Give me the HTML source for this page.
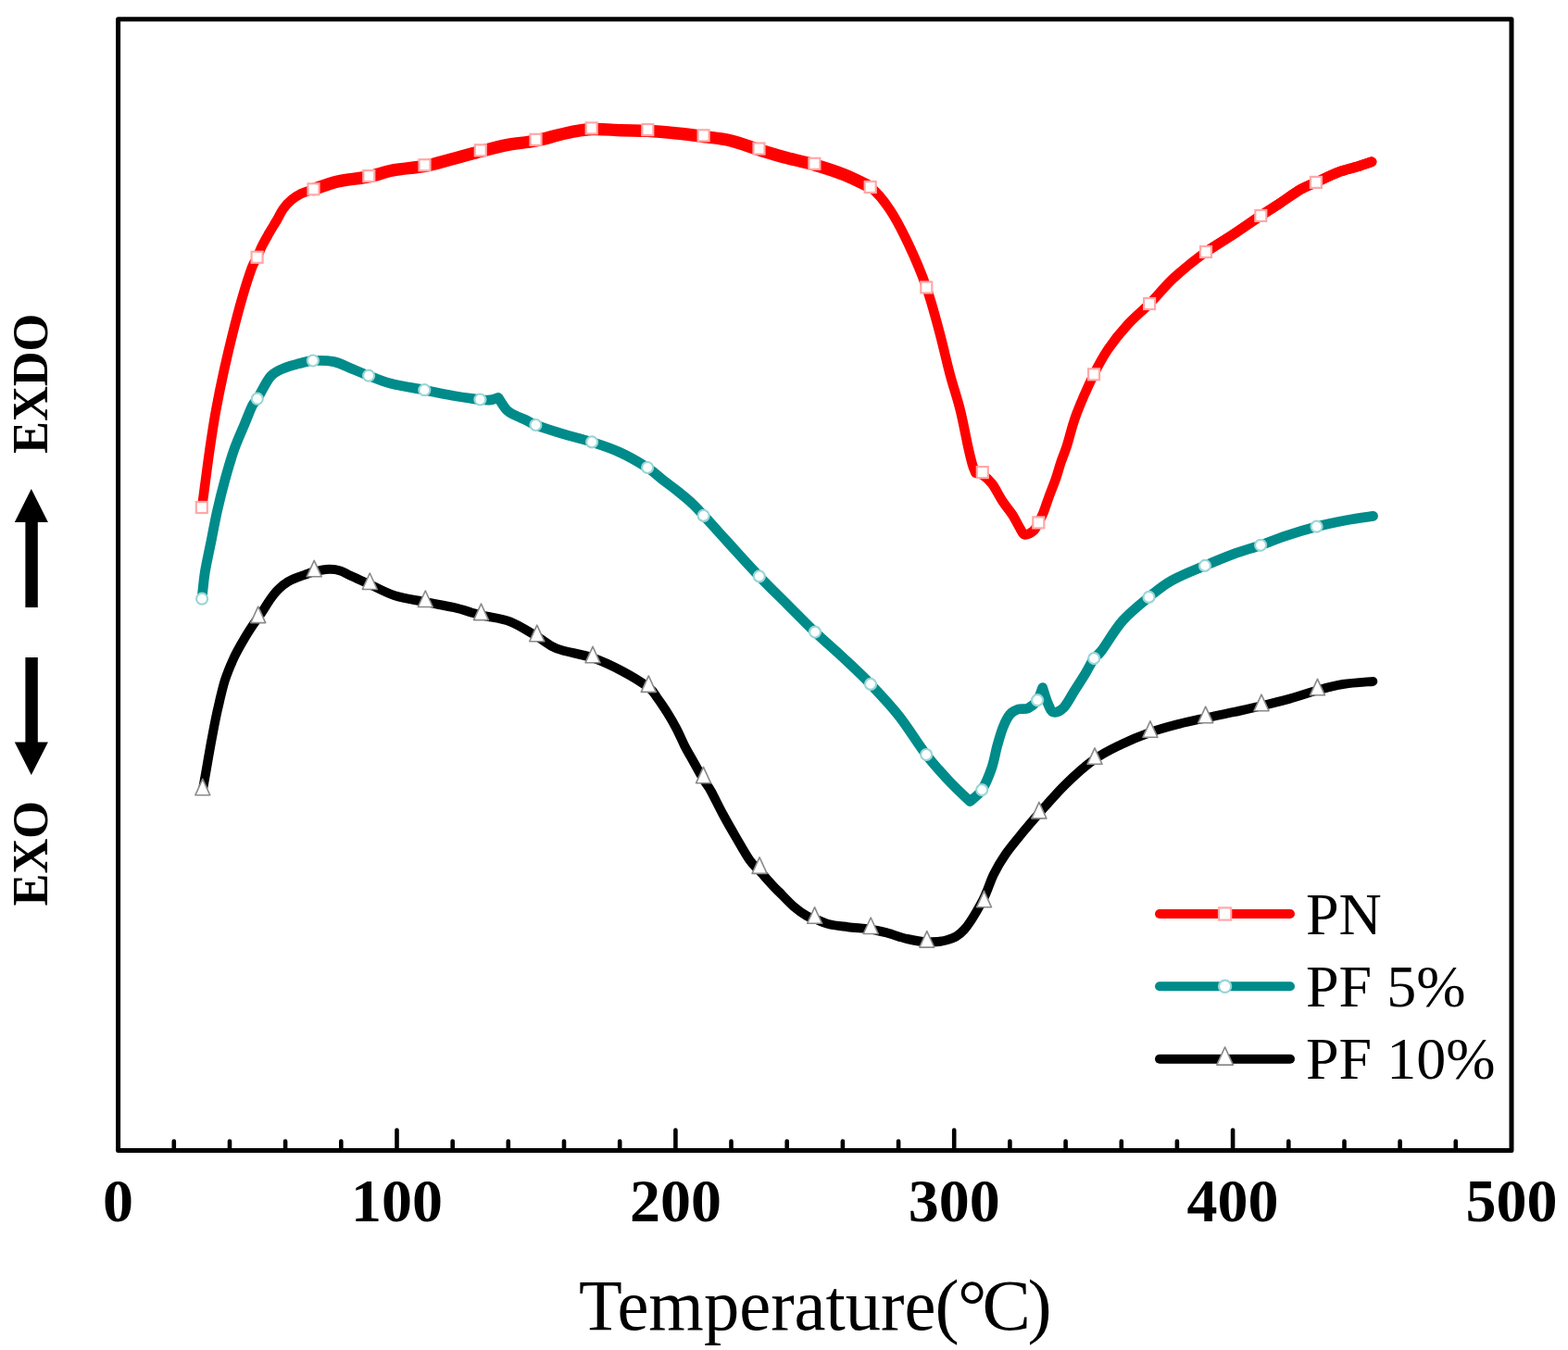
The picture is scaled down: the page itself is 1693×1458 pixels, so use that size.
<!DOCTYPE html>
<html><head><meta charset="utf-8"><title>DSC curves</title>
<style>
html,body{margin:0;padding:0;background:#fff;}
body{width:1693px;height:1458px;overflow:hidden;}
svg{display:block;}
.tk{font-family:"Liberation Serif","Times New Roman",serif;font-weight:bold;}
.rg{font-family:"Liberation Serif","Times New Roman","Noto Serif CJK SC",serif;}
</style></head><body>
<svg width="1693" height="1458" viewBox="0 0 1693 1458">
<rect x="0" y="0" width="1693" height="1458" fill="#fff"/>
<path d="M187.8,1242.6V1232.6M248,1242.6V1232.6M308.1,1242.6V1232.6M368.3,1242.6V1232.6M428.5,1242.6V1220.6M488.7,1242.6V1232.6M548.8,1242.6V1232.6M609,1242.6V1232.6M669.2,1242.6V1232.6M729.4,1242.6V1220.6M789.5,1242.6V1232.6M849.7,1242.6V1232.6M909.9,1242.6V1232.6M970.1,1242.6V1232.6M1030.2,1242.6V1220.6M1090.4,1242.6V1232.6M1150.6,1242.6V1232.6M1210.8,1242.6V1232.6M1270.9,1242.6V1232.6M1331.1,1242.6V1220.6M1391.3,1242.6V1232.6M1451.5,1242.6V1232.6M1511.6,1242.6V1232.6M1571.8,1242.6V1232.6" stroke="#000" stroke-width="4.6" fill="none" stroke-linecap="round"/>
<rect x="127.6" y="20.8" width="1504.4" height="1221.8" fill="none" stroke="#000" stroke-width="5" stroke-linejoin="round"/>
<text class="tk" x="127.6" y="1318.5" font-size="66" text-anchor="middle">0</text>
<text class="tk" x="428.5" y="1318.5" font-size="66" text-anchor="middle">100</text>
<text class="tk" x="729.4" y="1318.5" font-size="66" text-anchor="middle">200</text>
<text class="tk" x="1030.2" y="1318.5" font-size="66" text-anchor="middle">300</text>
<text class="tk" x="1331.1" y="1318.5" font-size="66" text-anchor="middle">400</text>
<text class="tk" x="1632" y="1318.5" font-size="66" text-anchor="middle">500</text>
<path d="M218,548C218.3,545.9 218.4,545.5 219.8,535.1C221.2,524.7 224.2,501 226.4,485.8C228.6,470.6 230.4,458.4 233,444C235.6,429.6 238.9,413.5 242,399.5C245.1,385.5 248,373.2 251.3,360C254.6,346.8 258.5,331.9 262,320C265.5,308.1 269.5,295.7 272.1,288.7C274.7,281.7 275.8,281.9 277.6,278C279.4,274.1 280.8,269.9 283,265.5C285.2,261.1 288,256.3 290.6,251.7C293.2,247.1 296.3,242.3 298.8,238C301.3,233.7 303.1,229.3 305.7,225.7C308.3,222 311.4,218.8 314.6,216.1C317.8,213.3 320.9,211.1 324.9,209.2C328.9,207.3 331.9,206.7 338.5,204.5C345.1,202.3 354.7,198.3 364.6,196C374.5,193.7 388.1,192.8 398,190.8C407.9,188.8 414.2,185.8 424.3,183.9C434.4,182 448.2,181.3 458.5,179.4C468.8,177.5 476.2,175 486.3,172.3C496.4,169.7 508.4,166.2 518.8,163.5C529.1,160.8 538.4,158.3 548.4,156.4C558.4,154.5 568.2,154.1 578.5,152C588.8,149.9 600.4,146.1 610.4,144C620.4,141.9 628.7,140.2 638.7,139.6C648.7,139 660.5,140.4 670.6,140.7C680.7,141 689.2,140.8 699.3,141.3C709.3,141.9 720.8,143 730.9,144C741,145 749.9,146.2 759.6,147.5C769.4,148.8 779.4,149.6 789.4,152C799.4,154.4 809.5,158.6 819.5,161.7C829.5,164.8 839.6,167.9 849.6,170.6C859.6,173.3 869.1,175 879.4,178C889.7,181 901.5,184.8 911.6,188.8C921.7,192.8 931.5,195.7 939.7,202C947.9,208.3 954.1,216.4 960.9,226.6C967.7,236.8 974,249.1 980.6,263.1C987.2,277.1 994.7,294.4 1000.3,310.4C1005.9,326.3 1010.2,343.2 1014.4,358.8C1018.6,374.4 1021.8,389.7 1025.6,403.8C1029.3,417.9 1033.6,429.7 1036.9,443.2C1040.2,456.7 1043.5,474.9 1045.7,484.7C1047.9,494.5 1048.7,497.6 1050,502C1051.3,506.4 1052.9,509.5 1053.5,511C1054.8,511.3 1058,511.1 1061,513C1064,514.9 1067.6,517.8 1071.2,522.5C1074.8,527.2 1078.9,535.9 1082.5,541.4C1086.1,546.9 1089.8,550.7 1092.9,555.6C1096.1,560.5 1099.2,567.1 1101.4,570.7C1103.6,574.3 1103.8,576.9 1106.2,577.4C1108.6,577.9 1113.1,575.7 1115.6,573.6C1118.1,571.5 1119.5,567.9 1121.3,564.6C1123.1,561.3 1124.6,558.4 1126.5,553.7C1128.4,549.1 1130.3,542.7 1132.5,536.7C1134.7,530.7 1137.5,524.1 1139.7,517.8C1141.9,511.5 1143.6,504.9 1145.6,498.9C1147.6,492.9 1149,490.5 1151.8,481.9C1154.6,473.3 1157.4,460.1 1162.3,447.2C1167.2,434.3 1175.4,416 1181.1,404.3C1186.8,392.6 1190.6,385.8 1196.6,376.9C1202.6,368 1209.7,359.2 1217.1,351.1C1224.5,343 1232.5,336.7 1241.1,328C1249.7,319.3 1258.4,308.3 1268.6,299C1278.8,289.7 1291.6,279.6 1302,272C1312.4,264.4 1321.1,260 1331,253.5C1340.9,247 1352.6,238.7 1361.3,232.9C1370,227.1 1375.9,223.5 1383,218.8C1390.1,214.1 1397.8,208.2 1404.1,204.6C1410.4,200.9 1414.1,200 1420.9,196.9C1427.7,193.8 1437.5,188.8 1445,186C1452.5,183.2 1460.1,181.7 1466.1,179.8C1472.1,177.9 1478.5,175.6 1481,174.8" stroke="#ff0000" stroke-width="10.5" fill="none" stroke-linecap="round" stroke-linejoin="round"/>
<path d="M338.5,204.5C342.9,203.1 354.7,198.3 364.6,196C374.5,193.7 388.1,192.8 398,190.8C407.9,188.8 414.2,185.8 424.3,183.9C434.4,182 448.2,181.3 458.5,179.4C468.8,177.5 476.2,175 486.3,172.3C496.4,169.7 508.4,166.2 518.8,163.5C529.1,160.8 538.4,158.3 548.4,156.4C558.4,154.5 568.2,154.1 578.5,152C588.8,149.9 600.4,146.1 610.4,144C620.4,141.9 628.7,140.2 638.7,139.6C648.7,139 660.5,140.4 670.6,140.7C680.7,141 689.2,140.8 699.3,141.3C709.3,141.9 720.8,143 730.9,144C741,145 749.9,146.2 759.6,147.5C769.4,148.8 779.4,149.6 789.4,152C799.4,154.4 809.5,158.6 819.5,161.7C829.5,164.8 839.6,167.9 849.6,170.6C859.6,173.3 869.1,175 879.4,178C889.7,181 901.5,184.8 911.6,188.8C921.7,192.8 935,199.8 939.7,202" stroke="#ff0000" stroke-width="13.5" fill="none" stroke-linecap="round" stroke-linejoin="round"/>
<path d="M1302,272C1306.8,268.9 1321.1,260 1331,253.5C1340.9,247 1352.6,238.7 1361.3,232.9C1370,227.1 1375.9,223.5 1383,218.8C1390.1,214.1 1397.8,208.2 1404.1,204.6C1410.4,200.9 1414.1,200 1420.9,196.9C1427.7,193.8 1437.5,188.8 1445,186C1452.5,183.2 1460.1,181.7 1466.1,179.8C1472.1,177.9 1478.5,175.6 1481,174.8" stroke="#ff0000" stroke-width="11" fill="none" stroke-linecap="round" stroke-linejoin="round"/>
<path d="M218,647C218.6,642.1 219.7,627.8 221.4,617.4C223.1,607 225.8,595.5 228,584.5C230.2,573.5 232.1,562.6 234.6,551.6C237.1,540.6 239.8,529.7 242.8,518.7C245.8,507.7 249.1,496 252.7,485.8C256.3,475.6 260.9,465.8 264.2,457.8C267.5,449.9 270.1,442.7 272.4,438.1C274.7,433.6 274.6,435.9 278,430.5C281.4,425.1 287.4,411.6 292.6,406C297.8,400.4 303.9,398.9 309,396.7C314.1,394.5 318.7,393.8 323.5,392.6C328.3,391.4 331.7,389.8 337.9,389.5C344.1,389.2 353.3,389.1 360.5,390.6C367.7,392.2 374.9,396.3 381.1,398.8C387.3,401.3 390.6,402.9 397.5,405.5C404.4,408.1 412.1,411.6 422.2,414.2C432.3,416.8 447.2,419 458.3,421.2C469.4,423.4 478.5,425.5 488.5,427.2C498.5,428.9 511.6,430.7 518.4,431.5C525.1,432.3 525.7,432.3 529,432C532.3,431.7 536.5,429.9 538,429.5C539.5,431.8 544.2,439.9 547.3,443.1C550.4,446.3 553.2,447 556.7,448.8C560.2,450.6 564.9,452.3 568.5,454C572.1,455.7 572,456.6 578.4,459C584.8,461.4 596.9,465.3 607,468.4C617.1,471.5 628.7,474 639.1,477.4C649.5,480.8 659.2,483.9 669.2,488.5C679.2,493.1 691.1,500 698.9,505C706.7,510 710.3,514.1 716,518.5C721.7,522.9 727.7,527.2 733,531.5C738.3,535.8 743.6,540.1 748,544.3C752.4,548.5 752.8,549 759.6,556.5C766.4,564 779,578 789,589C799,600 809.5,611.7 819.8,622.4C830,633.1 840.5,643.2 850.5,653.2C860.5,663.2 870.2,673.2 880,682.6C889.8,692 899.4,700 909.4,709.4C919.4,718.8 929.8,728.2 940,738.9C950.2,749.6 960.9,760.9 970.9,773.6C980.9,786.3 991.1,803.4 1000,815C1008.9,826.6 1016.5,834.7 1024.4,843.1C1032.3,851.5 1043.4,861.8 1047.2,865.5C1049.4,863.4 1056.3,859.1 1060.2,853.1C1064.1,847.1 1067.9,837.6 1070.7,829.6C1073.5,821.6 1074.8,812.3 1076.9,804.9C1079,797.5 1080.8,790.8 1083.1,785.2C1085.4,779.7 1087.8,774.8 1090.5,771.6C1093.2,768.4 1095.8,767.1 1099.1,766C1102.4,764.9 1106.7,766.4 1110.2,764.8C1113.7,763.2 1117.5,759.9 1120.1,756.2C1122.7,752.5 1124.8,744.9 1125.7,742.6C1126.6,745.4 1129.2,754.9 1131.2,759.3C1133.2,763.7 1134.5,768.3 1137.4,769.1C1140.3,769.9 1144.8,767.9 1148.5,764.2C1152.2,760.5 1155.7,753.1 1159.6,746.9C1163.5,740.7 1168.4,733.2 1172,727.2C1175.6,721.2 1178.3,715.2 1181.2,711.1C1184.1,707 1184.3,709.4 1189.5,702.6C1194.7,695.8 1203.6,680 1212.1,670.4C1220.6,660.8 1231.7,652.1 1240.5,644.9C1249.3,637.7 1255,632.7 1265.1,627C1275.2,621.3 1290,615.6 1301,610.9C1312,606.2 1321.2,602.3 1331.2,598.6C1341.2,594.9 1351.6,592.1 1361.1,588.8C1370.5,585.5 1377.8,582.1 1387.9,578.8C1398,575.4 1410.6,571.6 1421.6,568.7C1432.6,565.9 1443.9,563.6 1454.1,561.7C1464.2,559.8 1477.8,558.1 1482.5,557.4" stroke="#008b8b" stroke-width="10.8" fill="none" stroke-linecap="round" stroke-linejoin="round"/>
<path d="M218.9,853C219.6,849 221.5,838.5 223.1,829.3C224.7,820.1 226.7,808.2 228.7,797.7C230.7,787.2 232.6,776.7 235,766.2C237.4,755.7 240,743.8 242.9,734.6C245.8,725.4 248.9,718.4 252.3,711C255.7,703.6 260,696.4 263.4,690.5C266.8,684.6 270.3,679.3 272.8,675.5C275.3,671.7 276.7,670.1 278.5,667.5C280.3,664.9 281.3,663.5 283.6,660C285.9,656.5 289.5,650.4 292.4,646.4C295.2,642.4 297.5,639.3 300.7,636.3C303.9,633.2 307.6,630.4 311.3,628.1C315.1,625.9 319.8,624.2 323.2,622.8C326.6,621.4 329.4,620.7 332,619.8C334.6,618.9 335.2,618.1 339.1,617.3C343,616.4 350.9,614.9 355.6,614.7C360.3,614.6 363.7,615.2 367.5,616.4C371.3,617.6 373.2,619.3 378.5,621.8C383.8,624.3 391.6,627.6 399.5,631.2C407.4,634.8 416.2,640 426.2,643.2C436.2,646.4 448.6,648 459.3,650.2C470,652.4 480.4,653.9 490.4,656.2C500.4,658.6 509.4,661.8 519.5,664.3C529.5,666.8 540.7,667.4 550.7,671.3C560.8,675.1 571.4,682.5 579.8,687.4C588.2,692.2 590.9,696.5 600.9,700.4C610.9,704.2 628.3,706.5 640,710.5C651.7,714.5 661.2,719.2 671.2,724.5C681.2,729.8 693.6,737.4 700,742.3C706.4,747.1 706.2,749 709.6,753.6C713,758.2 717.1,764.3 720.6,769.9C724.1,775.5 727.4,781.2 730.5,787.1C733.6,793 736.3,799.7 739.2,805.4C742.1,811.1 744.5,815 748,821.2C751.5,827.4 756.7,837 760,842.5C763.3,848 764.3,848.3 767.7,854.5C771.1,860.7 776.1,871.2 780.6,879.5C785.1,887.8 789.8,896 794.6,904.2C799.4,912.4 805.1,922.8 809.4,928.9C813.7,935 816.1,936.2 820.2,940.7C824.3,945.2 830.6,952.3 834.1,956.1C837.6,959.9 837.4,959.5 841.3,963.4C845.1,967.2 852.2,974.9 857.2,979.2C862.2,983.5 867.2,986.9 871,989.1C874.8,991.3 876.2,990.9 880.1,992.4C884,993.9 888.5,996.5 894.4,998C900.3,999.5 908,1000.2 915.7,1001.2C923.4,1002.2 933.4,1002.6 940.5,1003.7C947.6,1004.8 951.7,1005.9 958.2,1007.6C964.7,1009.3 972.4,1012.4 979.5,1014C986.6,1015.6 993.5,1017.1 1000.8,1017.3C1008.1,1017.5 1016.5,1017.3 1023.2,1015.1C1029.9,1012.9 1034.9,1011 1041.2,1003.9C1047.5,996.8 1055.7,982.4 1061,972.5C1066.3,962.6 1068.8,952.7 1072.8,944.5C1076.8,936.3 1079.7,931.2 1085.2,923.3C1090.7,915.4 1099.7,904.7 1105.8,897.2C1111.9,889.7 1114.4,886.7 1121.9,878.3C1129.4,869.9 1141,856.3 1151,846.6C1161,836.9 1171.6,827.3 1181.6,820.2C1191.5,813.1 1200.7,808.9 1210.7,804C1220.8,799.1 1231.5,794.7 1241.9,791C1252.3,787.3 1263.1,784.5 1273.1,781.9C1283.1,779.3 1291.7,777.6 1301.7,775.4C1311.7,773.2 1322.9,771.1 1332.9,768.9C1343,766.7 1352,764.8 1362,762.4C1372,760 1382.5,757.4 1392.6,754.6C1402.7,751.8 1413,748.1 1422.5,745.5C1432,742.9 1439.8,740.6 1449.8,739C1459.8,737.4 1476.9,736.4 1482.3,735.9" stroke="#000000" stroke-width="10" fill="none" stroke-linecap="round" stroke-linejoin="round"/>
<rect x="211.8" y="542" width="12" height="12" fill="#fff" stroke="#ffa8a8" stroke-width="2.2"/><rect x="271.6" y="271.8" width="12" height="12" fill="#fff" stroke="#ffa8a8" stroke-width="2.2"/><rect x="332.5" y="198.3" width="12" height="12" fill="#fff" stroke="#ffa8a8" stroke-width="2.2"/><rect x="392.3" y="184.1" width="12" height="12" fill="#fff" stroke="#ffa8a8" stroke-width="2.2"/><rect x="452.5" y="172.2" width="12" height="12" fill="#fff" stroke="#ffa8a8" stroke-width="2.2"/><rect x="512.8" y="156.3" width="12" height="12" fill="#fff" stroke="#ffa8a8" stroke-width="2.2"/><rect x="572.5" y="144.8" width="12" height="12" fill="#fff" stroke="#ffa8a8" stroke-width="2.2"/><rect x="632.7" y="132.4" width="12" height="12" fill="#fff" stroke="#ffa8a8" stroke-width="2.2"/><rect x="693.3" y="134.1" width="12" height="12" fill="#fff" stroke="#ffa8a8" stroke-width="2.2"/><rect x="753.6" y="140.3" width="12" height="12" fill="#fff" stroke="#ffa8a8" stroke-width="2.2"/><rect x="813.5" y="154.5" width="12" height="12" fill="#fff" stroke="#ffa8a8" stroke-width="2.2"/><rect x="873.4" y="170.8" width="12" height="12" fill="#fff" stroke="#ffa8a8" stroke-width="2.2"/><rect x="933.7" y="196" width="12" height="12" fill="#fff" stroke="#ffa8a8" stroke-width="2.2"/><rect x="994.3" y="304.4" width="12" height="12" fill="#fff" stroke="#ffa8a8" stroke-width="2.2"/><rect x="1054.8" y="504.1" width="12" height="12" fill="#fff" stroke="#ffa8a8" stroke-width="2.2"/><rect x="1115.3" y="558.4" width="12" height="12" fill="#fff" stroke="#ffa8a8" stroke-width="2.2"/><rect x="1175.1" y="398.3" width="12" height="12" fill="#fff" stroke="#ffa8a8" stroke-width="2.2"/><rect x="1235.1" y="322" width="12" height="12" fill="#fff" stroke="#ffa8a8" stroke-width="2.2"/><rect x="1296" y="266" width="12" height="12" fill="#fff" stroke="#ffa8a8" stroke-width="2.2"/><rect x="1355.3" y="226.9" width="12" height="12" fill="#fff" stroke="#ffa8a8" stroke-width="2.2"/><rect x="1414.9" y="190.9" width="12" height="12" fill="#fff" stroke="#ffa8a8" stroke-width="2.2"/>
<circle cx="218.1" cy="646.7" r="6" fill="#fff" stroke="#9ad6d6" stroke-width="2.2"/><circle cx="277.8" cy="430.7" r="6" fill="#fff" stroke="#9ad6d6" stroke-width="2.2"/><circle cx="337.9" cy="389.5" r="6" fill="#fff" stroke="#9ad6d6" stroke-width="2.2"/><circle cx="398.1" cy="405.7" r="6" fill="#fff" stroke="#9ad6d6" stroke-width="2.2"/><circle cx="458.3" cy="421.2" r="6" fill="#fff" stroke="#9ad6d6" stroke-width="2.2"/><circle cx="518.4" cy="431.5" r="6" fill="#fff" stroke="#9ad6d6" stroke-width="2.2"/><circle cx="578.4" cy="459" r="6" fill="#fff" stroke="#9ad6d6" stroke-width="2.2"/><circle cx="639.1" cy="477.4" r="6" fill="#fff" stroke="#9ad6d6" stroke-width="2.2"/><circle cx="699.1" cy="505" r="6" fill="#fff" stroke="#9ad6d6" stroke-width="2.2"/><circle cx="759.6" cy="556.9" r="6" fill="#fff" stroke="#9ad6d6" stroke-width="2.2"/><circle cx="819.8" cy="622.4" r="6" fill="#fff" stroke="#9ad6d6" stroke-width="2.2"/><circle cx="880" cy="682.6" r="6" fill="#fff" stroke="#9ad6d6" stroke-width="2.2"/><circle cx="940" cy="738.9" r="6" fill="#fff" stroke="#9ad6d6" stroke-width="2.2"/><circle cx="1000.2" cy="815" r="6" fill="#fff" stroke="#9ad6d6" stroke-width="2.2"/><circle cx="1060.2" cy="853.1" r="6" fill="#fff" stroke="#9ad6d6" stroke-width="2.2"/><circle cx="1120.1" cy="756.2" r="6" fill="#fff" stroke="#9ad6d6" stroke-width="2.2"/><circle cx="1181.2" cy="711.1" r="6" fill="#fff" stroke="#9ad6d6" stroke-width="2.2"/><circle cx="1240.5" cy="644.9" r="6" fill="#fff" stroke="#9ad6d6" stroke-width="2.2"/><circle cx="1301" cy="610.9" r="6" fill="#fff" stroke="#9ad6d6" stroke-width="2.2"/><circle cx="1361.1" cy="588.8" r="6" fill="#fff" stroke="#9ad6d6" stroke-width="2.2"/><circle cx="1421.6" cy="568.7" r="6" fill="#fff" stroke="#9ad6d6" stroke-width="2.2"/>
<path d="M218.8,841.3L226.8,858.8L210.8,858.8Z" fill="#fff" stroke="#8a8a8a" stroke-width="1.6" stroke-linejoin="round"/><path d="M278.7,655.1L286.7,672.6L270.7,672.6Z" fill="#fff" stroke="#8a8a8a" stroke-width="1.6" stroke-linejoin="round"/><path d="M339.2,605.3L347.2,622.8L331.2,622.8Z" fill="#fff" stroke="#8a8a8a" stroke-width="1.6" stroke-linejoin="round"/><path d="M399.3,619L407.3,636.5L391.3,636.5Z" fill="#fff" stroke="#8a8a8a" stroke-width="1.6" stroke-linejoin="round"/><path d="M459.3,638L467.3,655.5L451.3,655.5Z" fill="#fff" stroke="#8a8a8a" stroke-width="1.6" stroke-linejoin="round"/><path d="M519.5,652.1L527.5,669.6L511.5,669.6Z" fill="#fff" stroke="#8a8a8a" stroke-width="1.6" stroke-linejoin="round"/><path d="M579.8,675.2L587.8,692.7L571.8,692.7Z" fill="#fff" stroke="#8a8a8a" stroke-width="1.6" stroke-linejoin="round"/><path d="M640,698.3L648,715.8L632,715.8Z" fill="#fff" stroke="#8a8a8a" stroke-width="1.6" stroke-linejoin="round"/><path d="M700.3,729.9L708.3,747.4L692.3,747.4Z" fill="#fff" stroke="#8a8a8a" stroke-width="1.6" stroke-linejoin="round"/><path d="M759.5,828.3L767.5,845.8L751.5,845.8Z" fill="#fff" stroke="#8a8a8a" stroke-width="1.6" stroke-linejoin="round"/><path d="M820.1,925.9L828.1,943.4L812.1,943.4Z" fill="#fff" stroke="#8a8a8a" stroke-width="1.6" stroke-linejoin="round"/><path d="M879.6,979.8L887.6,997.3L871.6,997.3Z" fill="#fff" stroke="#8a8a8a" stroke-width="1.6" stroke-linejoin="round"/><path d="M940.2,991L948.2,1008.5L932.2,1008.5Z" fill="#fff" stroke="#8a8a8a" stroke-width="1.6" stroke-linejoin="round"/><path d="M1000.8,1005.6L1008.8,1023.1L992.8,1023.1Z" fill="#fff" stroke="#8a8a8a" stroke-width="1.6" stroke-linejoin="round"/><path d="M1062.5,962.3L1070.5,979.8L1054.5,979.8Z" fill="#fff" stroke="#8a8a8a" stroke-width="1.6" stroke-linejoin="round"/><path d="M1121.9,866.4L1129.9,883.9L1113.9,883.9Z" fill="#fff" stroke="#8a8a8a" stroke-width="1.6" stroke-linejoin="round"/><path d="M1182,807.8L1190,825.3L1174,825.3Z" fill="#fff" stroke="#8a8a8a" stroke-width="1.6" stroke-linejoin="round"/><path d="M1241.9,778.8L1249.9,796.3L1233.9,796.3Z" fill="#fff" stroke="#8a8a8a" stroke-width="1.6" stroke-linejoin="round"/><path d="M1301.7,763.2L1309.7,780.7L1293.7,780.7Z" fill="#fff" stroke="#8a8a8a" stroke-width="1.6" stroke-linejoin="round"/><path d="M1362,750.2L1370,767.7L1354,767.7Z" fill="#fff" stroke="#8a8a8a" stroke-width="1.6" stroke-linejoin="round"/><path d="M1422.5,733.3L1430.5,750.8L1414.5,750.8Z" fill="#fff" stroke="#8a8a8a" stroke-width="1.6" stroke-linejoin="round"/>
<path d="M1252,987H1393" stroke="#ff0000" stroke-width="10" stroke-linecap="round"/><rect x="1316" y="980.4" width="13.2" height="13.2" fill="#fff" stroke="#ffa8a8" stroke-width="2.2"/><text class="rg" x="1410" y="1008.5" font-size="64">PN</text>
<path d="M1252,1065.3H1393" stroke="#008b8b" stroke-width="10" stroke-linecap="round"/><circle cx="1322.6" cy="1065.3" r="6.6" fill="#fff" stroke="#9ad6d6" stroke-width="2.2"/><text class="rg" x="1410" y="1086.8" font-size="64">PF 5%</text>
<path d="M1252,1143.7H1393" stroke="#000000" stroke-width="10" stroke-linecap="round"/><path d="M1322.6,1130.9L1331.4,1150.1L1313.8,1150.1Z" fill="#fff" stroke="#8a8a8a" stroke-width="1.6" stroke-linejoin="round"/><text class="rg" x="1410" y="1165.2" font-size="64">PF 10%</text>
<text class="rg" transform="translate(625,1436) scale(0.975,1)" font-size="78.5">Temperature</text>
<text class="rg" font-size="78.5" y="1436"><tspan x="1009.5">(</tspan><tspan x="1034">°</tspan><tspan x="1060.5">C</tspan><tspan x="1109.5">)</tspan></text>
<text class="tk" transform="translate(51.3,490) rotate(-90) scale(0.97,1)" font-size="54">EXDO</text>
<text class="tk" transform="translate(51.3,978.5) rotate(-90) scale(0.97,1)" font-size="54">EXO</text>
<path d="M33.8,528 L51.9,564 L40.8,564 L40.8,656 L27.4,656 L27.4,564 L15.8,564 Z" fill="#000"/>
<path d="M27.4,710 L40.8,710 L40.8,801.4 L51.9,801.4 L33.8,837 L15.8,801.4 L27.4,801.4 Z" fill="#000"/>
</svg>
</body></html>
